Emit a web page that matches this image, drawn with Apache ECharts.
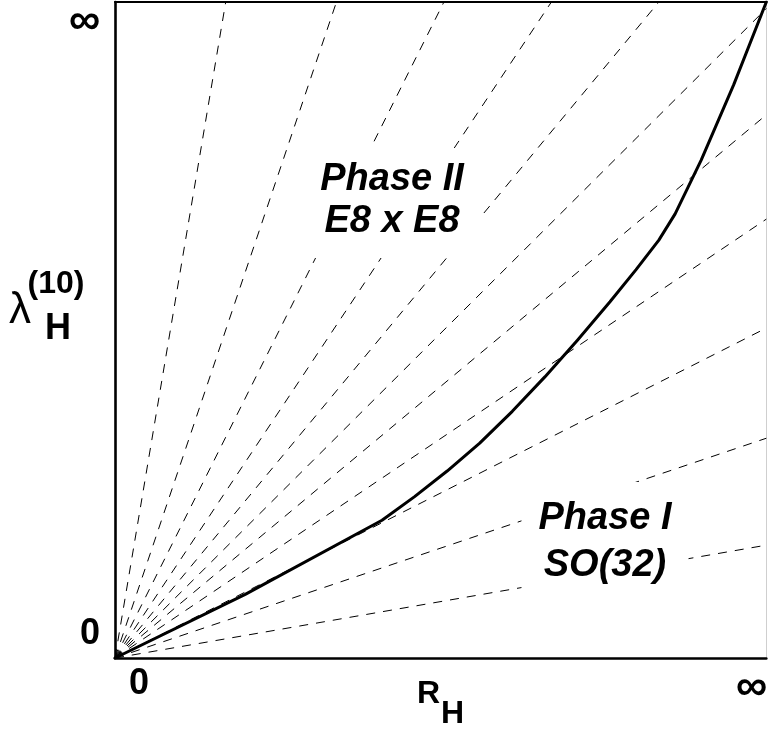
<!DOCTYPE html>
<html>
<head>
<meta charset="utf-8">
<script src="https://cdn.jsdelivr.net/npm/echarts@6/dist/echarts.min.js"></script>
<style>
html,body{margin:0;padding:0;background:#fff;}
#c{width:770px;height:729px;}
</style>
</head>
<body>
<div id="c"></div>
<script>
// Ray end points (data space, rays start at origin)
const rayEndX = [0.17, 0.34, 0.505, 0.67, 0.835, 1.0, 1.0, 1.0, 1.0, 1.0, 1.0];
const rayEndY = [1.0, 1.0, 1.0, 1.0, 1.0, 0.99, 0.828, 0.669, 0.503, 0.335, 0.172];

// Phase boundary curve
const curveX = [0, 0.2, 0.41, 0.46, 0.51, 0.56, 0.61, 0.66, 0.71, 0.76, 0.80, 0.835, 0.86, 0.90, 0.95, 1.0];
const curveY = [0, 0.097, 0.21, 0.246, 0.285, 0.3275, 0.376, 0.4285, 0.4845, 0.543, 0.592, 0.637, 0.677, 0.759, 0.874, 1.0];

// Tick labels
const tickValues = [0, 1];
const xTickLabels = ['0', '\u221E'];
const yTickLabels = ['0', '\u221E'];

const FONT = "'Liberation Sans', Arial, sans-serif";

const chart = echarts.init(document.getElementById('c'), null, {renderer: 'canvas'});

const series = [];
for (let i = 0; i < rayEndX.length; i++) {
  series.push({
    type: 'line', xAxisIndex: 0, yAxisIndex: 0,
    data: [[0, 0], [rayEndX[i], rayEndY[i]]],
    symbol: 'none', silent: true, z: 2,
    lineStyle: {color: '#000', width: 1, type: [9, 8]}
  });
}
series.push({
  type: 'line', xAxisIndex: 0, yAxisIndex: 0,
  data: curveX.map((x, i) => [x, curveY[i]]),
  symbol: 'none', silent: true, smooth: false, z: 3,
  lineStyle: {color: '#000', width: 3, join: 'round', cap: 'round'}
});

const option = {
  animation: false,
  backgroundColor: '#fff',
  grid: {left: 115, right: 1, top: 2, bottom: 71, containLabel: false},
  xAxis: [{
    type: 'value', min: 0, max: 1, position: 'bottom',
    axisLine: {show: true, onZero: false, lineStyle: {color: '#000', width: 2.6}},
    axisTick: {show: false}, splitLine: {show: false},
    axisLabel: {
      customValues: tickValues, margin: 8, color: '#000',
      fontSize: 36, fontWeight: 'bold', fontFamily: FONT,
      formatter: v => v === 0 ? '{d|' + xTickLabels[0] + '}' : '{i|' + xTickLabels[1] + '}',
      rich: {
        d: {fontSize: 36, fontWeight: 'bold', fontFamily: FONT, color: '#000', padding: [0, 0, 0, 48]},
        i: {fontSize: 44, fontWeight: 'bold', fontFamily: FONT, color: '#000', padding: [0, 30, 0, 0]}
      }
    }
  }, {
    type: 'value', min: 0, max: 1, position: 'top',
    axisLine: {show: true, onZero: false, lineStyle: {color: '#000', width: 2.2}},
    axisTick: {show: false}, axisLabel: {show: false}, splitLine: {show: false}
  }],
  yAxis: [{
    type: 'value', min: 0, max: 1, position: 'left',
    axisLine: {show: true, onZero: false, lineStyle: {color: '#000', width: 2.6}},
    axisTick: {show: false}, splitLine: {show: false},
    axisLabel: {
      customValues: tickValues, margin: 15, color: '#000',
      fontSize: 36, fontWeight: 'bold', fontFamily: FONT,
      formatter: v => v === 0 ? '{d|' + yTickLabels[0] + '}' : '{i|' + yTickLabels[1] + '}',
      rich: {
        d: {fontSize: 36, fontWeight: 'bold', fontFamily: FONT, color: '#000', padding: [0, 0, 48, 0]},
        i: {fontSize: 44, fontWeight: 'bold', fontFamily: FONT, color: '#000', padding: [40, 0, 0, 0]}
      }
    }
  }, {
    type: 'value', min: 0, max: 1, position: 'right',
    axisLine: {show: true, onZero: false, lineStyle: {color: '#cfcfcf', width: 1}},
    axisTick: {show: false}, axisLabel: {show: false}, splitLine: {show: false}
  }],
  graphic: [
    {type: 'text', z: 100, style: {
      x: 392, y: 148, text: 'Phase II\nE8 x E8', align: 'center', verticalAlign: 'top',
      fontSize: 38, fontWeight: 'bold', fontStyle: 'italic', fontFamily: FONT, lineHeight: 42,
      fill: '#000', backgroundColor: '#fff', padding: [11, 17, 15, 17]}},
    {type: 'text', z: 100, style: {
      x: 605, y: 482, text: 'Phase I\nSO(32)', align: 'center', verticalAlign: 'top',
      fontSize: 38, fontWeight: 'bold', fontStyle: 'italic', fontFamily: FONT, lineHeight: 47,
      fill: '#000', backgroundColor: '#fff', padding: [13, 17, 11, 17]}},
    {type: 'text', z: 100, style: {x: 9, y: 311, text: '\u03BB', align: 'left', verticalAlign: 'middle',
      fontSize: 44, fontFamily: FONT, fill: '#000'}},
    {type: 'text', z: 100, style: {x: 56, y: 284, text: '(10)', align: 'center', verticalAlign: 'middle',
      fontSize: 32, fontWeight: 'bold', fontFamily: FONT, fill: '#000'}},
    {type: 'text', z: 100, style: {x: 58, y: 329, text: 'H', align: 'center', verticalAlign: 'middle',
      fontSize: 36, fontWeight: 'bold', fontFamily: FONT, fill: '#000'}},
    {type: 'text', z: 100, style: {x: 417, y: 694, text: 'R', align: 'left', verticalAlign: 'middle',
      fontSize: 32, fontWeight: 'bold', fontFamily: FONT, fill: '#000'}},
    {type: 'text', z: 100, style: {x: 441, y: 714, text: 'H', align: 'left', verticalAlign: 'middle',
      fontSize: 32, fontWeight: 'bold', fontFamily: FONT, fill: '#000'}}
  ],
  series: series
};
chart.setOption(option);
</script>
</body>
</html>
